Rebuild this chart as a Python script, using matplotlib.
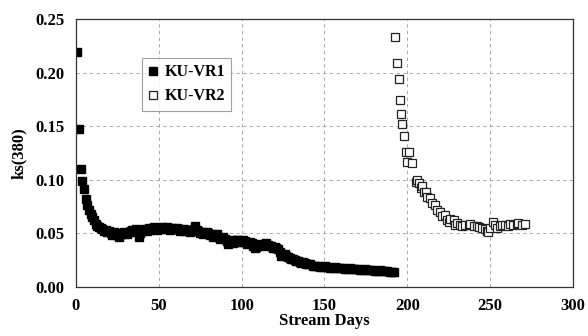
import matplotlib
matplotlib.use('Agg')
import matplotlib.pyplot as plt

# KU-VR1 (filled squares)
vr1_days = [0.5, 2, 3, 4, 5, 6, 7, 8, 9, 10,
            11, 12, 13, 14, 15, 16, 17, 18, 19, 20,
            21, 22, 23, 24, 25, 26, 27, 28, 29, 30,
            31, 32, 33, 34, 35, 36, 37, 38, 39, 40,
            41, 42, 43, 44, 45, 46, 47, 48, 49, 50,
            51, 52, 53, 54, 55, 56, 57, 58, 59, 60,
            61, 62, 63, 64, 65, 66, 67, 68, 69, 70,
            71, 72, 73, 74, 75, 76, 77, 78, 79, 80,
            81, 82, 83, 84, 85, 86, 87, 88, 89, 90,
            91, 92, 93, 94, 95, 96, 97, 98, 99, 100,
            101, 102, 103, 104, 105, 106, 107, 108, 109, 110,
            111, 112, 113, 114, 115, 116, 117, 118, 119, 120,
            121, 122, 123, 124, 125, 126, 127, 128, 129, 130,
            131, 132, 133, 134, 135, 136, 137, 138, 139, 140,
            141.5, 143, 144.5, 146, 147.5, 149, 150.5, 152, 153.5, 155,
            156.5, 158, 159.5, 161, 162.5, 164, 165.5, 167, 168.5, 170,
            171.5, 173, 174.5, 176, 177.5, 179, 180.5, 182, 183.5, 185,
            186.5, 188, 189.5, 191, 192]
vr1_ks = [0.219, 0.147, 0.110, 0.099, 0.091, 0.082, 0.076, 0.072, 0.068, 0.065,
          0.062, 0.059, 0.057, 0.056, 0.055, 0.054, 0.052, 0.053, 0.051, 0.052,
          0.050, 0.048, 0.051, 0.050, 0.048, 0.047, 0.050, 0.049, 0.051, 0.050,
          0.049, 0.051, 0.052, 0.053, 0.051, 0.054, 0.052, 0.047, 0.050, 0.052,
          0.053, 0.054, 0.052, 0.055, 0.053, 0.054, 0.056, 0.055, 0.053, 0.055,
          0.054, 0.056, 0.055, 0.054, 0.056, 0.055, 0.053, 0.055, 0.054, 0.054,
          0.055, 0.054, 0.052, 0.053, 0.054, 0.052, 0.053, 0.053, 0.051, 0.052,
          0.054, 0.057, 0.053, 0.052, 0.050, 0.051, 0.049, 0.050, 0.051, 0.050,
          0.048, 0.049, 0.047, 0.048, 0.049, 0.047, 0.045, 0.046, 0.047, 0.045,
          0.043, 0.040, 0.042, 0.044, 0.041, 0.043, 0.044, 0.044, 0.042, 0.042,
          0.044, 0.043, 0.040, 0.041, 0.042, 0.041, 0.038, 0.036, 0.037, 0.039,
          0.040, 0.038, 0.039, 0.040, 0.041, 0.039, 0.038, 0.038, 0.036, 0.037,
          0.036, 0.035, 0.033, 0.029, 0.030, 0.031, 0.029, 0.028, 0.027, 0.026,
          0.026, 0.025, 0.024, 0.024, 0.023, 0.022, 0.023, 0.022, 0.021, 0.021,
          0.021, 0.020, 0.020, 0.020, 0.019, 0.019, 0.020, 0.019, 0.018, 0.018,
          0.019, 0.018, 0.018, 0.018, 0.017, 0.017, 0.018, 0.017, 0.017, 0.017,
          0.016, 0.016, 0.017, 0.016, 0.016, 0.016, 0.015, 0.015, 0.016, 0.015,
          0.015, 0.015, 0.014, 0.014, 0.014]

# KU-VR2 (open squares)
vr2_days = [192.5, 193.5, 195, 195.5, 196, 197, 198, 199, 200, 201,
            203, 205, 206, 207, 208, 209, 210, 211, 212, 214,
            215, 217, 218, 220, 221, 223, 224, 225, 226, 228,
            229, 230, 232, 233, 235, 237, 238, 240, 242, 243,
            245, 247, 248, 249, 250, 252, 253, 254, 256, 257,
            259, 261, 262, 264, 266, 267, 269, 271]
vr2_ks = [0.233, 0.209, 0.194, 0.174, 0.161, 0.152, 0.141, 0.126, 0.117, 0.126,
          0.116, 0.098, 0.100, 0.097, 0.092, 0.094, 0.089, 0.089, 0.084, 0.083,
          0.078, 0.076, 0.072, 0.070, 0.066, 0.067, 0.062, 0.061, 0.063, 0.062,
          0.058, 0.060, 0.058, 0.057, 0.058, 0.058, 0.059, 0.057, 0.057, 0.056,
          0.055, 0.054, 0.052, 0.051, 0.055, 0.061, 0.058, 0.055, 0.057, 0.058,
          0.058, 0.057, 0.059, 0.058, 0.059, 0.060, 0.058, 0.059]

x_ticks = [0, 50, 100, 150, 200, 250, 300]
y_ticks = [0.00, 0.05, 0.10, 0.15, 0.20, 0.25]

plt.rcParams['font.family'] = ['Liberation Serif', 'DejaVu Serif']
plt.rcParams['font.weight'] = 'bold'

fig = plt.figure(figsize=(5.88, 3.36), dpi=100)
ax = fig.add_axes([0.129, 0.146, 0.8455, 0.7975])

ax.plot(vr1_days, vr1_ks, linestyle='None', marker='s', markersize=5.2,
        mfc='black', mec='black', label='KU-VR1')
ax.plot(vr2_days, vr2_ks, linestyle='None', marker='s', markersize=5.2,
        mfc='white', mec='#222222', mew=0.9, label='KU-VR2')

ax.set_xlim(0, 300)
ax.set_ylim(0, 0.25)
ax.set_xticks(x_ticks)
ax.set_yticks(y_ticks)
ax.set_yticklabels(['%.2f' % v for v in y_ticks])
ax.tick_params(length=0, labelsize=12, pad=8)
ax.tick_params(axis='x', pad=8)
ax.grid(True, color='#9a9a9a', linestyle=(0, (4, 4)), linewidth=0.6)
ax.set_axisbelow(True)
for s in ax.spines.values():
    s.set_color('#333333')
    s.set_linewidth(0.9)

ax.set_xlabel('Stream Days', fontsize=12, fontweight='bold', labelpad=-1)
ax.set_ylabel('ks(380)', fontsize=12, fontweight='bold', labelpad=6)

leg = ax.legend(loc='upper left', bbox_to_anchor=(0.133, 0.855), fontsize=11.5,
                frameon=True, fancybox=False, edgecolor='#888888',
                handlelength=0.6, handletextpad=0.4, borderpad=0.4,
                labelspacing=0.5, borderaxespad=0)
leg.get_frame().set_linewidth(0.8)

fig.savefig('out.png', dpi=100)
